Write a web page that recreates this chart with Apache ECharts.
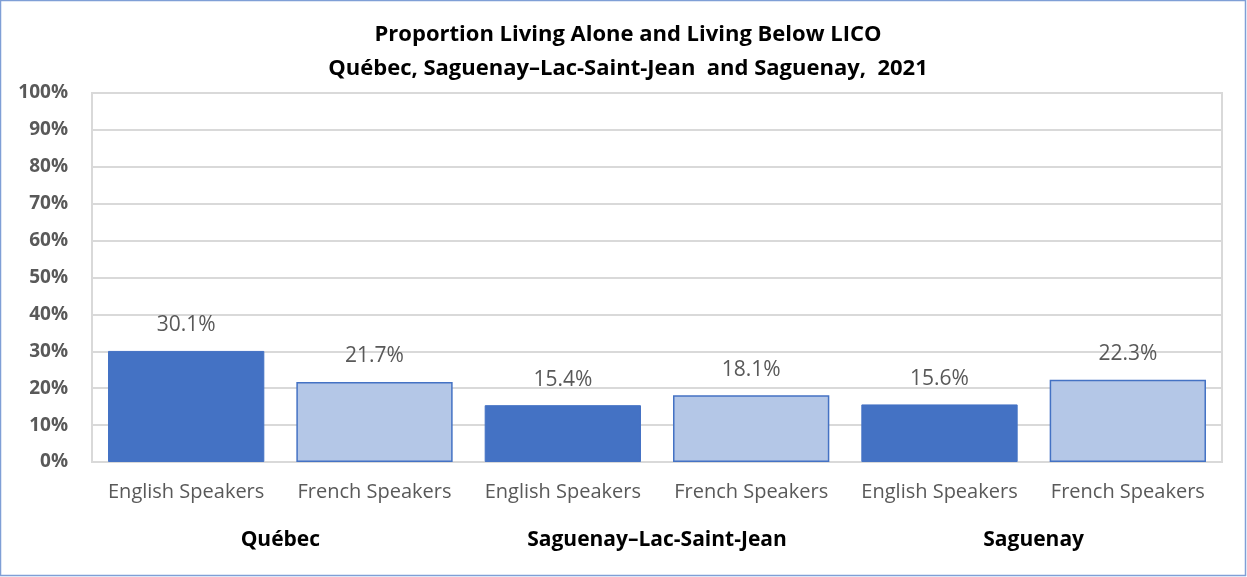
<!DOCTYPE html>
<html>
<head>
<meta charset="utf-8">
<script src="https://cdn.jsdelivr.net/npm/echarts@6/dist/echarts.min.js"></script>
<style>
  html, body { margin: 0; padding: 0; background: #fff; }
  #chart { width: 1247px; height: 577px; }
</style>
</head>
<body>
<div id="chart"></div>
<script>
// categories and groups
const speakers = ["English Speakers", "French Speakers", "English Speakers", "French Speakers", "English Speakers", "French Speakers"]
const regions = ["Québec", "Saguenay–Lac-Saint-Jean", "Saguenay"]
const values = [30.1, 21.7, 15.4, 18.1, 15.6, 22.3]
const yTicks = [0, 10, 20, 30, 40, 50, 60, 70, 80, 90, 100]

const DARK = "#4472C4"
const LIGHT = "#B4C7E7"
const FONT = "'Open Sans', 'Noto Sans', sans-serif"

const chart = echarts.init(document.getElementById("chart"))

// english bars are solid blue, french bars pale with a blue outline
const barData = values.map((v, i) => ({
  value: v,
  itemStyle: i % 2 === 0
    ? { color: DARK, borderColor: DARK, borderWidth: 1 }
    : { color: LIGHT, borderColor: DARK, borderWidth: 1.5 }
}))

chart.setOption({
  animation: false,
  title: {
    text: "Proportion Living Alone and Living Below LICO\nQuébec, Saguenay–Lac-Saint-Jean  and Saguenay,  2021",
    left: 623,
    textAlign: "center",
    top: 13,
    textStyle: { fontFamily: FONT, fontSize: 22, fontWeight: "bold", color: "#000", lineHeight: 34 }
  },
  graphic: [{
    type: "rect",
    shape: { x: 0.5, y: 0.5, width: 1245, height: 575 },
    style: { fill: null, stroke: "#7F9FD6", lineWidth: 1.5 },
    silent: true
  }],
  grid: { left: 92, right: 25, top: 93, bottom: 115, show: true, borderColor: "#D9D9D9", borderWidth: 2 },
  xAxis: [
    {
      type: "category",
      data: speakers,
      axisLine: { lineStyle: { color: "#D9D9D9", width: 2 } },
      axisTick: { show: false },
      axisLabel: { interval: 0, fontFamily: FONT, fontSize: 20, color: "#595959", margin: 20 }
    },
    {
      type: "category",
      data: regions,
      position: "bottom",
      offset: 60,
      axisLine: { show: false },
      axisTick: { show: false },
      axisLabel: { interval: 0, fontFamily: FONT, fontSize: 21, fontWeight: "bold", color: "#000" }
    }
  ],
  yAxis: {
    type: "value",
    min: yTicks[0],
    max: yTicks[yTicks.length - 1],
    interval: 10,
    axisLine: { show: false },
    axisTick: { show: false },
    splitLine: { lineStyle: { color: "#D9D9D9", width: 2 } },
    axisLabel: { fontFamily: FONT, fontSize: 19, fontWeight: "bold", color: "#595959", margin: 24, formatter: "{value}%" }
  },
  series: [{
    type: "bar",
    xAxisIndex: 0,
    data: barData,
    barCategoryGap: "17%",
    label: {
      show: true,
      position: "top",
      distance: 15,
      fontFamily: FONT,
      fontSize: 21,
      color: "#595959",
      formatter: p => p.value.toFixed(1) + "%"
    }
  }]
})
</script>
</body>
</html>
